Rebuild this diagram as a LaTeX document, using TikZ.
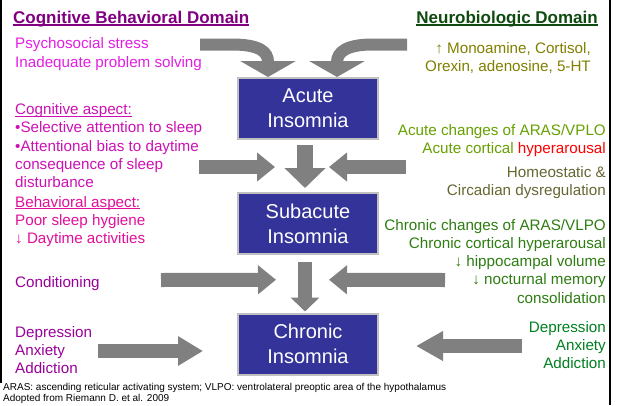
\documentclass[tikz,border=0pt]{standalone}
\usepackage{fontspec}
\setmainfont{Liberation Sans}
\usepackage{tikz}
\usetikzlibrary{arrows.meta,positioning,calc}

\definecolor{boxblue}{HTML}{333399}
\definecolor{boxborder}{HTML}{C0C0C0}
\definecolor{arrowgray}{HTML}{808080}
\definecolor{headpurple}{HTML}{800080}
\definecolor{headgreen}{HTML}{0F4A0F}
\definecolor{stresspink}{HTML}{E31EE3}
\definecolor{cogpink}{HTML}{CC11B4}
\definecolor{behpink}{HTML}{E0109A}
\definecolor{condpurple}{HTML}{990099}
\definecolor{monoolive}{HTML}{7F7F00}
\definecolor{acutegreen}{HTML}{66A000}
\definecolor{homeogray}{HTML}{666633}
\definecolor{chrongreen}{HTML}{2E7D12}
\definecolor{depgreen}{HTML}{008020}

\newcommand{\undl}[2][1.1pt]{\setbox0\hbox{#2}\rlap{\rule[-2.4pt]{\wd0}{#1}}\box0}

\begin{document}
\begin{tikzpicture}[x=1pt,y=1pt,
  every node/.style={inner sep=0pt,font=\fontsize{15.2}{18.2}\selectfont},
  stage/.style={draw=boxborder,line width=2pt,fill=boxblue,text=white,
    minimum width=140pt,minimum height=61pt,align=center,
    font=\fontsize{20}{25}\selectfont},
  cause/.style={anchor=north west,align=left},
  neuro/.style={anchor=north east,align=right},
  realm/.style={font=\bfseries\fontsize{17}{20}\selectfont},
  fat/.style={draw=arrowgray,line width=14pt,-{Triangle[width=28pt,length=18pt]}},
  curl/.style={draw=arrowgray,line width=12pt,-{Triangle[width=55pt,length=16pt]}}]

    \useasboundingbox (0,0) rectangle (618,-405);

    % frame
    \draw[line width=2pt] (1,0) -- (1,-383);
    \draw[line width=2.5pt] (609.8,0) -- (609.8,-405);

    % stages
    \node[stage](acute) at (308,-108.5) {Acute\\Insomnia};
    \node[stage](sub) at (308,-223.5) {Subacute\\Insomnia};
    \node[stage](chron) at (308,-344) {Chronic\\Insomnia};

    % domains
    \node[realm,anchor=north west,text=headpurple](cbd) at (13,-10.9)
        {\undl[1.5pt]{Cognitive Behavioral Domain}};
    \node[realm,anchor=north east,text=headgreen](nbd) at (598,-10.9)
        {\undl[1.5pt]{Neurobiologic Domain}};

    % cognitive behavioral side
    \node[cause,text=stresspink](psy) at (15,-37.6)
        {Psychosocial stress\\Inadequate problem solving};
    \node[cause,text=cogpink](cog) at (15,-103.4)
        {\undl{Cognitive aspect:}\\
         •Selective attention to sleep\\
         •Attentional bias to daytime\\
         consequence of sleep\\
         disturbance};
    \node[cause,text=behpink](beh) at (15,-195.8)
        {\undl{Behavioral aspect:}\\Poor sleep hygiene\\↓ Daytime activities};
    \node[cause,text=condpurple](cond) at (15,-276.4) {Conditioning};
    \node[cause,text=condpurple](dep) at (15,-325.8)
        {Depression\\Anxiety\\Addiction};

    % neurobiologic side
    \node[neuro,text=monoolive](mono) at (591,-42.4)
        {↑ Monoamine, Cortisol,\\Orexin, adenosine, 5-HT};
    \node[neuro,text=acutegreen](aras) at (606,-124.1)
        {Acute changes of ARAS/VPLO\\Acute cortical {\color{red}hyperarousal}};
    \node[neuro,text=homeogray](homeo) at (606,-165.8)
        {Homeostatic \&\\Circadian dysregulation};
    \node[neuro,text=chrongreen](chras) at (606,-219.1)
        {Chronic changes of ARAS/VLPO\\Chronic cortical hyperarousal\\
         ↓ hippocampal volume\\↓ nocturnal memory\\consolidation};
    \node[neuro,text=depgreen](rdep) at (606,-320.8)
        {Depression\\Anxiety\\Addiction};

    \node[cause,font=\fontsize{10}{11}\selectfont](foot) at (3,-383)
        {ARAS: ascending reticular activating system; VLPO: ventrolateral preoptic area of the hypothalamus\\
         Adopted from Riemann D. et al. 2009};

    % arrow ends
    \coordinate (psyarr) at (200,-44.5);
    \coordinate (monoarr) at (407,-44.5);
    \coordinate (cogarr) at (199,-167);
    \coordinate (homarr) at (406,-167);
    \coordinate (condarr) at (161,-280);
    \coordinate (chrarr) at (445,-280);
    \coordinate (deparr) at (98,-351);
    \coordinate (rdeparr) at (522,-346);
    \coordinate (gap1) at ($(acute.south)!.5!(sub.north)$);
    \coordinate (gap2) at ($(sub.south)!.5!(chron.north)$);

    \draw[curl](psyarr) -- ++(32,0) .. controls +(28,0) and +(0,25) .. ($(acute.north west)+(31,0)$);
    \draw[curl](monoarr) -- ++(-35,0) .. controls +(-25,0) and +(0,25) .. ($(acute.north west)+(100,0)$);

    \draw[fat,line width=16pt,-{Triangle[width=40pt,length=20pt]}]
        ($(acute.south)+(-3,-5)$) -- ($(sub.north)+(-3,4)$);
    \draw[fat,-{Triangle[width=28pt,length=14pt]}]
        ($(sub.south)+(-3,-7)$) -- ($(chron.north)+(-3,1)$);

    \draw[fat](cogarr) -- ($(gap1)+(-33,-1)$);
    \draw[fat](homarr) -- ($(gap1)+(21,-1)$);
    \draw[fat](condarr) -- ($(gap2)+(-32,4)$);
    \draw[fat](chrarr) -- ($(gap2)+(21,4)$);
    \draw[fat,-{Triangle[width=28pt,length=25pt]}](deparr) -- ($(chron.west)+(-34,-7)$);
    \draw[fat,-{Triangle[width=28pt,length=27pt]}](rdeparr) -- ($(chron.east)+(37,-2)$);
\end{tikzpicture}
\end{document}
